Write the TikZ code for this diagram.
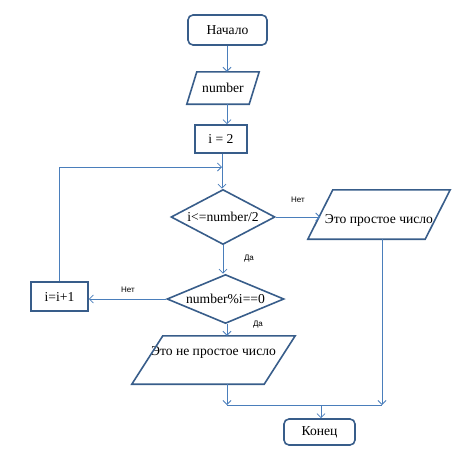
\documentclass[tikz,border=0pt]{standalone}
\usepackage{fontspec}
\setmainfont{Liberation Serif}
\newfontfamily\labfont{Liberation Sans}
\usetikzlibrary{shapes.geometric,arrows.meta}
\definecolor{boxblue}{HTML}{385D8A}
\definecolor{lineblue}{HTML}{4A7EBB}
\def\boxfont{\fontsize{13.6}{15}\selectfont}
\newcommand\ioframe[2]{\draw [frame] ([xshift=#2]#1.north west) -- ([xshift=#2]#1.north east) -- ([xshift=-#2]#1.south east) -- ([xshift=-#2]#1.south west) -- cycle;}

\begin{document}
\begin{tikzpicture}[x=1pt,y=-1pt,
			term/.style={rectangle,rounded corners=5pt,draw=boxblue,line width=1.6pt,font=\boxfont},
			proc/.style={rectangle,draw=boxblue,line width=1.6pt,font=\boxfont},
			io/.style={rectangle,font=\boxfont},
			frame/.style={draw=boxblue,line width=1.6pt,line join=miter},
			test/.style={diamond,draw=boxblue,line width=1.6pt,aspect=2,font=\boxfont},
			arr/.style={draw=lineblue,line width=0.8pt,-{Straight Barb[length=4pt,width=8pt]}},
			wire/.style={draw=lineblue,line width=0.8pt},
			lab/.style={font=\labfont\fontsize{8}{9}\selectfont},
			inner sep=0pt]
			\useasboundingbox (0,0) rectangle (464,453);
			\node [term,minimum width=79pt,minimum height=30pt]	(start)	at (227.5,30)	{Начало};
			\node [io,minimum width=62pt,minimum height=32pt]	(input)	at (223,88)	{number};
				\ioframe{input}{5pt}
			\node [proc,minimum width=52pt,minimum height=28pt]	(init)	at (221,139)	{i = 2};
			\node [test,minimum width=104pt,minimum height=55pt]	(loop)	at (223,217)	{i<=number/2};
			\node [io,minimum width=117pt,minimum height=49pt,text height=17pt,text depth=0pt]	(prime)	at (379,214.5)	{Это простое число};
				\ioframe{prime}{12.5pt}
			\node [test,minimum width=117pt,minimum height=48pt]	(divides)	at (225.5,299)	{number\%i==0};
			\node [proc,minimum width=57pt,minimum height=29pt]	(incr)	at (59.5,296.5)	{i=i+1};
			\node [io,minimum width=132pt,minimum height=48pt,text height=9pt,text depth=18pt]	(notprime)	at (213.5,360)	{Это не простое число};
				\ioframe{notprime}{15.5pt}
			\node [term,minimum width=71pt,minimum height=26pt]	(stop)	at (319.5,432)	{Конец};
			\coordinate (back) at (222,167);
			\coordinate (joinL) at (227,405);
			\coordinate (joinR) at (382,405);
			\coordinate (joinC) at (321,405);
			\draw [arr] (start.south -| joinL) -- (input.north -| joinL);
			\draw [arr] (input.south -| joinL) -- (init.north -| joinL);
			\draw [arr] (init.south -| back) -- (loop.north -| back);
			\draw [arr] (loop.east) -- (loop.east -| prime.west);
				\node [lab] at (298,200)	{Нет};
			\draw [arr] (loop.south) -- (divides.north -| loop.south);
				\node [lab] at (249,259)	{Да};
			\draw [arr] (divides.west) -- (incr.east |- divides.west);
				\node [lab] at (128,290)	{Нет};
			\draw [arr] (incr.north) |- (back);
			\draw [arr] (divides.south -| joinL) -- (notprime.north -| joinL);
				\node [lab] at (258,325)	{Да};
			\draw [arr] (notprime.south -| joinL) -- (joinL);
			\draw [arr] (prime.south -| joinR) -- (joinR);
			\draw [wire] (joinL) -- (joinR);
			\draw [arr] (joinC) -- (stop.north -| joinC);
		\end{tikzpicture}
\end{document}
